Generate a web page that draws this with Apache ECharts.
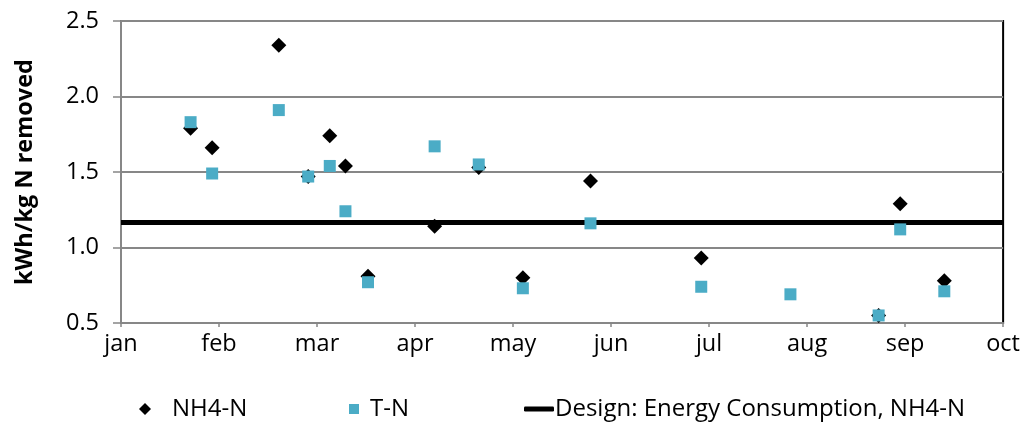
<!DOCTYPE html>
<html>
<head>
<meta charset="utf-8">
<script src="https://cdn.jsdelivr.net/npm/echarts@6/dist/echarts.min.js"></script>
<style>
  html, body { margin: 0; padding: 0; background: #fff; }
  #chart { width: 1023px; height: 426px; }
</style>
</head>
<body>
<div id="chart"></div>
<script>
  // month labels of the x axis (0 = jan ... 9 = oct)
  const monthLabels = ['jan', 'feb', 'mar', 'apr', 'may', 'jun', 'jul', 'aug', 'sep', 'oct'];

  // NH4-N samples: position in months since jan 1, value in kWh/kg N removed
  const nh4Month = [0.71, 0.93, 1.61, 1.91, 2.13, 2.29, 2.52, 3.20, 3.65, 4.10, 4.79, 5.92, 7.73, 7.95, 8.40];
  const nh4Value = [1.79, 1.66, 2.34, 1.47, 1.74, 1.54, 0.81, 1.14, 1.53, 0.80, 1.44, 0.93, 0.55, 1.29, 0.78];

  // T-N samples
  const tnMonth = [0.71, 0.93, 1.61, 1.91, 2.13, 2.29, 2.52, 3.20, 3.65, 4.10, 4.79, 5.92, 6.83, 7.73, 7.95, 8.40];
  const tnValue = [1.83, 1.49, 1.91, 1.47, 1.54, 1.24, 0.77, 1.67, 1.55, 0.73, 1.16, 0.74, 0.69, 0.55, 1.12, 0.71];

  // design value, drawn across the whole period
  const designMonth = [0, 9];
  const designValue = [1.165, 1.165];

  const font = 'Open Sans';
  const gridGray = '#878787';

  function pairs(xs, ys) {
    return xs.map(function (x, i) { return [x, ys[i]]; });
  }

  const option = {
    animation: false,
    textStyle: { fontFamily: font },
    grid: {
      left: 121, right: 13, top: 21, bottom: 103,
      show: true,
      borderColor: '#000',
      borderWidth: 2
    },
    legend: [
      {
        data: ['NH4-N'], left: 134, top: 392, icon: 'diamond',
        itemWidth: 12, itemHeight: 12,
        textStyle: { fontFamily: font, fontSize: 24, color: '#000', padding: [0, 0, 0, 16] }
      },
      {
        data: ['T-N'], left: 344, top: 392, icon: 'rect',
        itemWidth: 10, itemHeight: 10,
        textStyle: { fontFamily: font, fontSize: 24, color: '#000', padding: [0, 0, 0, 6] }
      },
      {
        data: [{ name: 'Design: Energy Consumption, NH4-N', icon: 'roundRect' }],
        left: 519, top: 392,
        itemWidth: 30, itemHeight: 5,
        textStyle: { fontFamily: font, fontSize: 24, color: '#000', padding: [0, 0, 0, -4] }
      }
    ],
    xAxis: {
      type: 'value',
      min: 0, max: 9, interval: 1,
      axisLine: { show: true, lineStyle: { color: gridGray, width: 2 } },
      axisTick: { show: true, length: 4, lineStyle: { color: gridGray, width: 1.5 } },
      splitLine: { show: false },
      axisLabel: {
        margin: 9,
        fontFamily: font, fontSize: 23.5, color: '#000',
        formatter: function (v) { return monthLabels[v]; }
      }
    },
    yAxis: {
      type: 'value',
      min: 0.5, max: 2.5, interval: 0.5,
      name: 'kWh/kg N removed',
      nameLocation: 'middle',
      nameGap: 84,
      nameTextStyle: { fontFamily: font, fontSize: 23.5, fontWeight: 'bold', color: '#000' },
      axisLine: { show: true, lineStyle: { color: gridGray, width: 2 } },
      axisTick: { show: true, length: 8, lineStyle: { color: gridGray, width: 1.5 } },
      splitLine: { show: true, lineStyle: { color: gridGray, width: 2 } },
      axisLabel: {
        margin: 22,
        fontFamily: font, fontSize: 23.5, color: '#000',
        formatter: function (v) { return v.toFixed(1); }
      }
    },
    series: [
      {
        name: 'Design: Energy Consumption, NH4-N',
        type: 'line',
        data: pairs(designMonth, designValue),
        symbol: 'none',
        lineStyle: { color: '#000', width: 5 },
        itemStyle: { color: '#000' },
        z: 2
      },
      {
        name: 'NH4-N',
        type: 'scatter',
        data: pairs(nh4Month, nh4Value),
        symbol: 'diamond',
        symbolSize: 15,
        itemStyle: { color: '#000', opacity: 1 },
        z: 3
      },
      {
        name: 'T-N',
        type: 'scatter',
        data: pairs(tnMonth, tnValue),
        symbol: 'rect',
        symbolSize: 12,
        itemStyle: { color: '#4BACC6', opacity: 1 },
        z: 4
      }
    ]
  };

  const myChart = echarts.init(document.getElementById('chart'));
  myChart.setOption(option);
  window.addEventListener('resize', function () { myChart.resize(); });
</script>
</body>
</html>
